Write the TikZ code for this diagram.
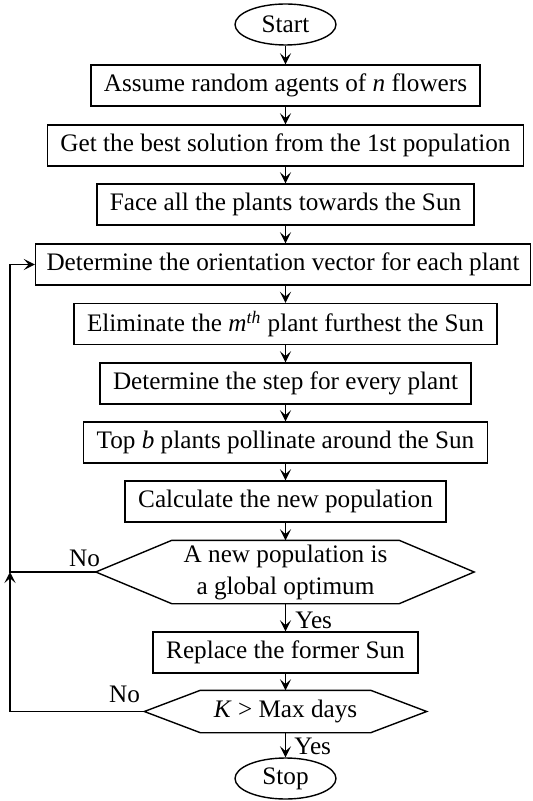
\documentclass[tikz,border=0pt]{standalone}
\usepackage{fontspec}
\setmainfont{Liberation Serif}
\usetikzlibrary{shapes.geometric,arrows.meta}
\tikzset{
  procbox/.style={draw, rectangle, minimum height=20.5pt, inner xsep=6.5pt, inner ysep=0pt},
  termnode/.style={draw, ellipse, minimum width=50.5pt, minimum height=20.5pt, inner sep=0pt},
  flow/.style={-{Stealth[length=5.5pt,width=5.5pt,inset=2.4pt]}},
}
\begin{document}
\begin{tikzpicture}[x=0.5pt, y=-0.5pt, line width=0.7pt, every node/.style={font=\fontsize{12.6}{16}\selectfont}]
\useasboundingbox (0,0) rectangle (532,801);
% main column
\node[termnode] (start) at (285.5,24.5) {Start};
\node[procbox] (init) at (285.5,85.5) {Assume random agents of \textit{n} flowers};
\node[procbox] (best) at (285.5,145.5) {Get the best solution from the 1st population};
\node[procbox] (face) at (285.5,204.5) {Face all the plants towards the Sun};
\node[procbox, inner xsep=5.5pt] (orient) at (283,264.5) {Determine the orientation vector for each plant};
\node[procbox] (elim) at (285.5,324) {Eliminate the \textit{m}\textsuperscript{\textit{th}} plant furthest the Sun};
\node[procbox] (stepsize) at (285.5,383.5) {Determine the step for every plant};
\node[procbox] (pollin) at (285.5,442.5) {Top \textit{b} plants pollinate around the Sun};
\node[procbox] (newpop) at (285.5,501.5) {Calculate the new population};
\node[minimum width=113pt, minimum height=31pt, inner sep=0pt, align=center] (check) at (285.5,572) {A new population is\\a global optimum};
\node[procbox] (replace) at (285.5,652.5) {Replace the former Sun};
\node[minimum width=84.5pt, minimum height=20.5pt, inner sep=0pt] (days) at (285.5,711.5) {\textit{K} > Max days};
\node[termnode] (stop) at (285.5,778.5) {Stop};
% decision outlines
\coordinate (d1tip) at ([xshift=-38pt]check.west);
\coordinate (d2tip) at ([xshift=-28pt]days.west);
\draw (check.north west) -- (check.north east) -- ([xshift=37.5pt]check.east) -- (check.south east) -- (check.south west) -- (d1tip) -- cycle;
\draw (days.north west) -- (days.north east) -- ([xshift=28pt]days.east) -- (days.south east) -- (days.south west) -- (d2tip) -- cycle;
% labels
\node (no1) at (84.5,558) {No};
\node (no2) at (124.5,694) {No};
\node[anchor=west] (yes1) at (288,620) {Yes};
\node[anchor=west] (yes2) at (287,746) {Yes};
% connectors
\draw[flow] (start) -- (init);
\draw[flow] (init) -- (best);
\draw[flow] (best) -- (face);
\draw[flow] (face) -- (face |- orient.north);
\draw[flow] (face |- orient.south) -- (elim);
\draw[flow] (elim) -- (stepsize);
\draw[flow] (stepsize) -- (pollin);
\draw[flow] (pollin) -- (newpop);
\draw[flow] (newpop) -- (check);
\draw[flow] (check) -- (replace);
\draw[flow] (replace) -- (days);
\draw[flow] (days) -- (stop);
% loops back
\coordinate (bendA) at (10,572);
\coordinate (bendB) at (10,711.5);
\draw[flow] (d1tip) -- (bendA) |- (orient);
\draw[flow] (d2tip) -- (bendB) -- (bendA);
\end{tikzpicture}
\end{document}
